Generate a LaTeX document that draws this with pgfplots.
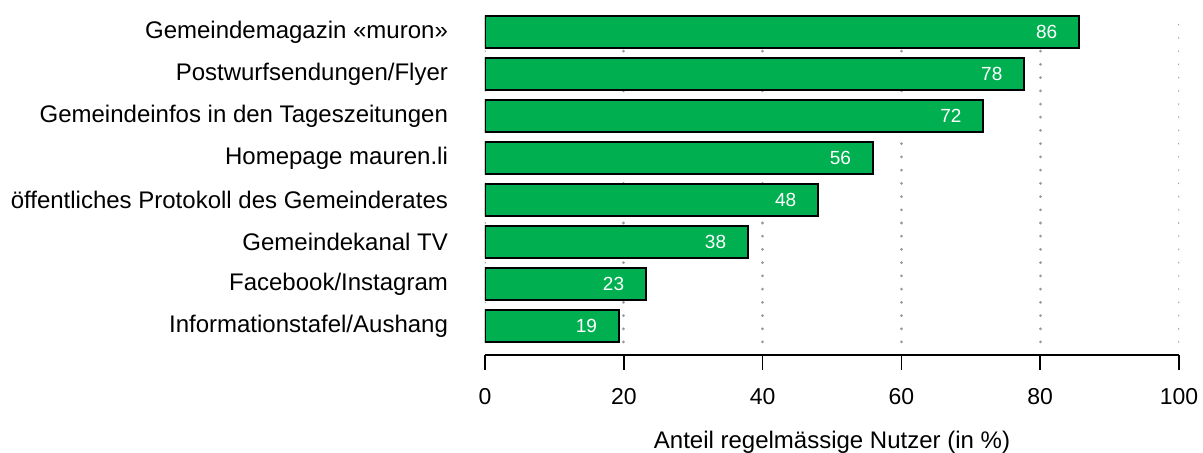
\documentclass[border=0pt]{standalone}
\usepackage{pgfplots}
\pgfplotsset{compat=1.18}
\usepackage{fontspec}
\setmainfont{Liberation Sans}
\definecolor{bargreen}{RGB}{0,176,80}
\begin{document}
\begin{tikzpicture}
\begin{axis}[
  at={(0,0)}, anchor=south west,
  scale only axis,
  width=347pt, height=171.5pt,
  xmin=0, xmax=100,
  ymin=0.31, ymax=8.476,
  axis x line*=bottom, axis y line*=left,
  y axis line style={draw=none},
  x axis line style={line width=0.75pt},
  xtick={0,20,40,60,80,100},
  tick align=outside,
  major tick length=7.5pt,
  xtick style={black, line width=0.75pt},
  ytick={1,...,8},
  ytick style={draw=none},
  yticklabels={Informationstafel/Aushang, Facebook/Instagram, Gemeindekanal TV, öffentliches Protokoll des Gemeinderates, Homepage mauren.li, Gemeindeinfos in den Tageszeitungen, Postwurfsendungen/Flyer, Gemeindemagazin «muron»},
  yticklabel style={font=\fontsize{12}{14}\selectfont, anchor=east, xshift=-7.5pt},
  xticklabel style={font=\fontsize{11.5}{13}\selectfont, yshift=-5.5pt},
  /pgf/number format/assume math mode=true,
  xlabel={Anteil regelmässige Nutzer (in \%)},
  xlabel style={font=\fontsize{12}{14}\selectfont, at={(axis description cs:0.5,0)}, anchor=center, yshift=-43.5pt},
]
\pgfplotsinvokeforeach{0,20,40,60,80,100}{
  \addplot[forget plot, color=black!40, line width=1.5pt, dash pattern=on 0.01pt off 6.6pt, line cap=round] coordinates {(#1,0.62) (#1,8.476)};
}
\addplot[xbar, bar width=0.76, fill=bargreen, draw=black, line width=0.9pt,
  nodes near coords={\pgfmathprintnumber[fixed,precision=0,assume math mode=true]{\pgfplotspointmeta}},
  every node near coord/.append style={anchor=east, inner sep=0pt, xshift=-10.5pt, text=white, font=\fontsize{9.5}{11}\selectfont},
] coordinates {
  (19.3,1) (23.2,2) (37.9,3) (48.0,4) (55.9,5) (71.8,6) (77.7,7) (85.6,8)
};
\end{axis}
\pgfresetboundingbox
\path (-242.5pt,-48.5pt) rectangle (359pt,177.5pt);
\end{tikzpicture}
\end{document}
